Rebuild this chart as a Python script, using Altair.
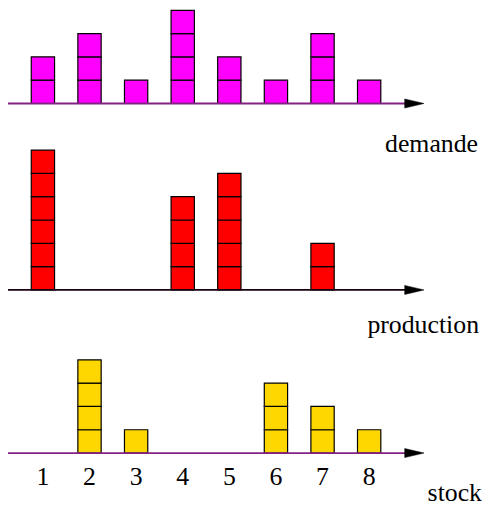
import altair as alt
import pandas as pd

periods = [1, 2, 3, 4, 5, 6, 7, 8]
demande = [2, 3, 1, 4, 2, 1, 3, 1]
production = [6, 0, 0, 4, 5, 0, 2, 0]
stock = [0, 4, 1, 0, 0, 3, 2, 1]

series_names = ["demande", "production", "stock"]
series_values = [demande, production, stock]
series_colors = ["#ff00ff", "#ff0000", "#ffd700"]
axis_colors = ["#852085", "#1a0010", "#852085"]
series_base = [15, 7, 0]          # vertical offset (in unit squares) of each strip

# layout (pixels)
W, H = 478, 499
UNIT_X = 47.0                      # px per period
UNIT_Y = 23.5                      # px per square
X_FIRST = 35.2                     # chart px of period 1 centre
Y_ZERO = 446.7                     # chart px of stock baseline

x_lo = 1 - X_FIRST / UNIT_X
x_hi = x_lo + W / UNIT_X
y_hi = Y_ZERO / UNIT_Y
y_lo = (Y_ZERO - H) / UNIT_Y

xs = alt.Scale(domain=[x_lo, x_hi], range=[0, W], nice=False, zero=False)
ys = alt.Scale(domain=[y_lo, y_hi], range=[H, 0], nice=False, zero=False)

rows = []
for name, vals, col, base in zip(series_names, series_values, series_colors, series_base):
    for p, v in zip(periods, vals):
        for k in range(v):
            rows.append(dict(serie=name, p0=p - 0.25, p1=p + 0.25,
                             y0=base + k, y1=base + k + 1, color=col))
squares = pd.DataFrame(rows)

axis_rows = []
for name, base, col in zip(series_names, series_base, axis_colors):
    axis_rows.append(dict(serie=name, a0=x_lo, a1=8.78, y=base,
                          tip=8.97, color=col))
axes_df = pd.DataFrame(axis_rows)

label_pos = pd.DataFrame({
    "text": series_names,
    "px": [x_lo + 474 / UNIT_X, x_lo + 475 / UNIT_X, x_lo + 478 / UNIT_X],
    "py": [(Y_ZERO - 143) / UNIT_Y, (Y_ZERO - 326) / UNIT_Y, (Y_ZERO - 495) / UNIT_Y],
})

ticks = pd.DataFrame({"p": periods, "t": [str(p) for p in periods],
                      "py": [(Y_ZERO - 479) / UNIT_Y] * len(periods)})

rects = alt.Chart(squares).mark_rect(stroke="black", strokeWidth=1.2).encode(
    x=alt.X("p0:Q", scale=xs, axis=None),
    x2="p1:Q",
    y=alt.Y("y0:Q", scale=ys, axis=None),
    y2="y1:Q",
    fill=alt.Fill("color:N", scale=None),
)

lines = alt.Chart(axes_df).mark_rule(strokeWidth=1.8).encode(
    x=alt.X("a0:Q", scale=xs),
    x2="a1:Q",
    y=alt.Y("y:Q", scale=ys),
    color=alt.Color("color:N", scale=None),
)

arrows = alt.Chart(axes_df).mark_point(
    shape="M-1,-0.47L1,0L-1,0.47Z", filled=True, fill="black",
    stroke="black", strokeWidth=0.5, size=380, opacity=1,
).encode(
    x=alt.X("tip:Q", scale=xs),
    y=alt.Y("y:Q", scale=ys),
)

labels = alt.Chart(label_pos).mark_text(
    font="Liberation Serif", fontSize=26, align="right", baseline="alphabetic",
    color="black",
).encode(
    x=alt.X("px:Q", scale=xs),
    y=alt.Y("py:Q", scale=ys),
    text="text:N",
)

tick_labels = alt.Chart(ticks).mark_text(
    font="Liberation Serif", fontSize=26, align="center", baseline="alphabetic",
    color="black",
).encode(
    x=alt.X("p:Q", scale=xs),
    y=alt.Y("py:Q", scale=ys),
    text="t:N",
)

chart = alt.layer(rects, lines, arrows, labels, tick_labels).properties(
    width=W, height=H, padding=0,
    autosize=alt.AutoSizeParams(type="none"),
).configure(background="white", view=alt.ViewConfig(stroke=None))

chart.save("out.html", embed_options={"renderer": "svg", "actions": False})
